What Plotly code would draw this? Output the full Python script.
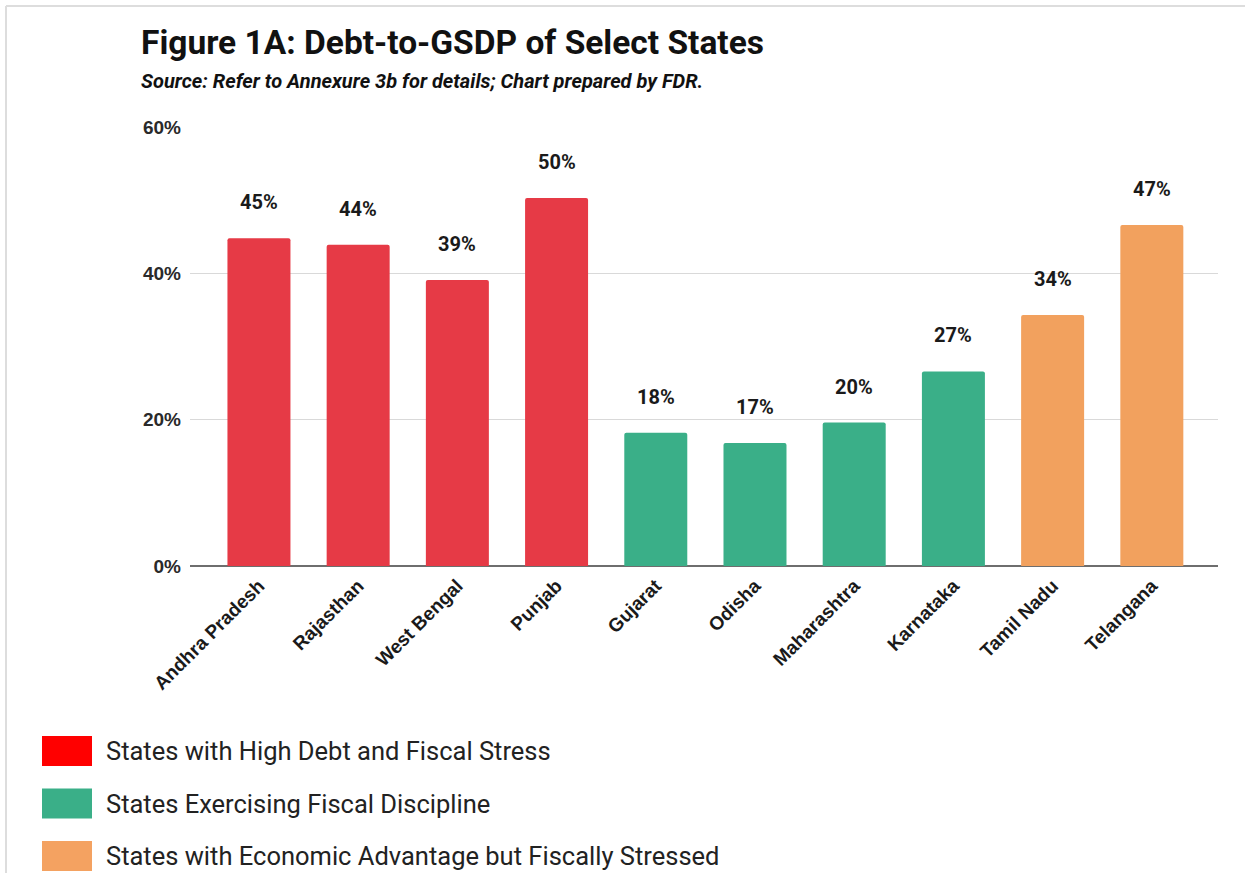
import plotly.graph_objects as go

# Debt-to-GSDP ratio (%) by state
states = ["Andhra Pradesh", "Rajasthan", "West Bengal", "Punjab", "Gujarat",
          "Odisha", "Maharashtra", "Karnataka", "Tamil Nadu", "Telangana"]
debt_to_gsdp = [44.8, 43.9, 39.1, 50.3, 18.2, 16.8, 19.6, 26.6, 34.3, 46.6]
group_of_state = ["stress", "stress", "stress", "stress", "discipline",
                  "discipline", "discipline", "discipline", "advantage", "advantage"]

groups = ["stress", "discipline", "advantage"]
group_labels = ["States with High Debt and Fiscal Stress",
                "States Exercising Fiscal Discipline",
                "States with Economic Advantage but Fiscally Stressed"]
y_ticks = [0, 20, 40, 60]

bar_colors = {"stress": "#E63A46", "discipline": "#3AAF88", "advantage": "#F2A15E"}
key_colors = {"stress": "#FF0000", "discipline": "#3AAF88", "advantage": "#F4A261"}

W, H = 1245, 873
L, R, T, B = 190, 1218, 127, 566


def px(x):
    return (x - L) / (R - L)


def py(y):
    return (B - y) / (B - T)


fig = go.Figure()
fig.add_trace(go.Bar(
    x=states,
    y=debt_to_gsdp,
    width=0.635,
    marker=dict(color=[bar_colors[g] for g in group_of_state], line=dict(width=0),
                cornerradius=2),
    hoverinfo="x+y",
    showlegend=False,
))

annotations = []
# value labels above bars
for s, v in zip(states, debt_to_gsdp):
    annotations.append(dict(
        x=s, y=v, xref="x", yref="y", text=f"{round(v)}%", showarrow=False,
        yshift=36, yanchor="middle", xanchor="center",
        font=dict(family="Roboto", size=20, color="#1A1A1A", weight="bold"),
    ))

# title and source line
annotations.append(dict(
    x=px(139), y=py(42), xref="paper", yref="paper", xanchor="left", yanchor="middle",
    text="<b>Figure 1A: Debt-to-GSDP of Select States</b>", showarrow=False,
    font=dict(family="Roboto", size=33.5, color="#111111"),
))
annotations.append(dict(
    x=px(139), y=py(81), xref="paper", yref="paper", xanchor="left", yanchor="middle",
    text="<b><i>Source: Refer to Annexure 3b for details; Chart prepared by FDR.</i></b>",
    showarrow=False, font=dict(family="Roboto", size=20, color="#111111"),
))

shapes = [
    # card border (top and left edges)
    dict(type="line", xref="paper", yref="paper", x0=px(6), x1=px(W), y0=py(6), y1=py(6),
         line=dict(color="#DDDDDD", width=2)),
    dict(type="line", xref="paper", yref="paper", x0=px(6), x1=px(6), y0=py(6), y1=py(H),
         line=dict(color="#DDDDDD", width=2)),
]

# category key below the chart
for i, (g, lab) in enumerate(zip(groups, group_labels)):
    cy = 751 + 52.5 * i
    shapes.append(dict(type="rect", xref="paper", yref="paper",
                       x0=px(42), x1=px(92), y0=py(cy - 15), y1=py(cy + 15),
                       fillcolor=key_colors[g], line=dict(width=0)))
    annotations.append(dict(
        x=px(104), y=py(cy), xref="paper", yref="paper", xanchor="left", yanchor="middle",
        text=lab, showarrow=False, font=dict(family="Roboto", size=25.5, color="#222222"),
    ))

fig.update_layout(
    width=W, height=H,
    margin=dict(l=L, r=W - R, t=T, b=H - B, pad=0),
    paper_bgcolor="white", plot_bgcolor="white",
    annotations=annotations, shapes=shapes,
    bargap=0.36,
    xaxis=dict(
        type="category", categoryorder="array", categoryarray=states,
        range=[-0.695, 9.667], tickangle=-45, showgrid=False, zeroline=False,
        showline=False, ticks="", ticklabelstandoff=4,
        tickfont=dict(family="Liberation Sans", size=19, color="#1A1A1A", weight="bold"),
    ),
    yaxis=dict(
        range=[0, 60], tickvals=y_ticks, ticktext=[f"{t}%" for t in y_ticks],
        showgrid=True, gridcolor="#D9D9D9", gridwidth=1,
        zeroline=True, zerolinecolor="#6E6E6E", zerolinewidth=2,
        ticks="", ticklabelstandoff=8, showline=False,
        tickfont=dict(family="Liberation Sans", size=19, color="#2A2A2A", weight="bold"),
    ),
)

fig.write_html("out.html")
